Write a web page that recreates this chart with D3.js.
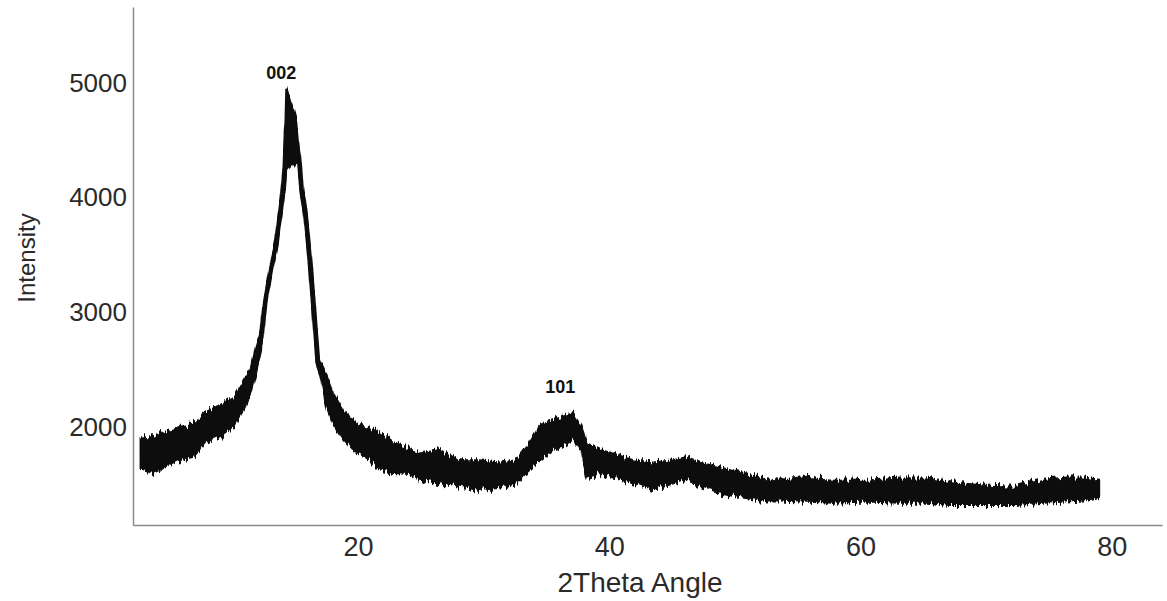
<!DOCTYPE html>
<html>
<head>
<meta charset="utf-8">
<script src="https://cdn.jsdelivr.net/npm/d3@7"></script>
<style>
  body { margin: 0; background: #fff; }
  svg { display: block; font-family: "Liberation Sans", Arial, sans-serif; }
</style>
</head>
<body>
<div id="chart-area"></div>
<script>
// 2theta angle (deg) with the lower and upper edge of the noisy trace
const angles = [2.7, 3.7, 4.7, 5.8, 6.9, 7.9, 9.0, 10.1, 10.9, 11.5, 11.9, 12.3, 12.5, 12.7, 13.1, 13.5, 13.8, 14.0,
  14.2, 14.3, 14.6, 14.9, 15.1, 15.3, 15.5, 15.8, 16.2, 16.6, 16.8, 17.0, 17.5, 18.0, 18.8, 19.6, 20.6, 21.8,
  22.8, 24.1, 24.9, 26.5, 28.1, 29.7, 31.3, 32.6, 33.4, 34.5, 35.5, 36.3, 37.1, 37.8, 38.2, 39.3, 40.3, 41.9,
  43.5, 45.1, 46.2, 47.2, 48.8, 50.4, 52.0, 53.6, 55.2, 57.9, 60.5, 63.1, 65.3, 67.1, 69.8, 72.4, 74.6, 76.4,
  77.8, 79.0];
const lower = [1630, 1600, 1650, 1710, 1740, 1860, 1910, 2000, 2150, 2300, 2470, 2670, 2950, 3130, 3370, 3570, 3830, 4010,
  4070, 4240, 4280, 4280, 4330, 4280, 4070, 3860, 3420, 2850, 2540, 2450, 2170, 2030, 1890, 1800, 1740, 1630,
  1600, 1590, 1540, 1510, 1480, 1450, 1470, 1510, 1600, 1710, 1800, 1830, 1890, 1800, 1560, 1600, 1560, 1510,
  1450, 1510, 1540, 1480, 1420, 1390, 1360, 1360, 1350, 1340, 1350, 1340, 1340, 1320, 1320, 1320, 1340, 1350,
  1360, 1390];
const upper = [1910, 1910, 1970, 2000, 2030, 2130, 2190, 2260, 2410, 2520, 2700, 2850, 3020, 3170, 3410, 3600, 3870, 4040,
  4500, 4960, 4850, 4760, 4680, 4420, 4110, 3890, 3460, 2890, 2630, 2560, 2440, 2300, 2150, 2060, 2000, 1950,
  1860, 1810, 1770, 1800, 1710, 1710, 1690, 1710, 1830, 2030, 2060, 2090, 2120, 2000, 1860, 1800, 1770, 1710,
  1690, 1710, 1740, 1690, 1650, 1600, 1560, 1540, 1560, 1540, 1540, 1560, 1560, 1520, 1490, 1480, 1540, 1560,
  1560, 1540];

const xTicks = [20, 40, 60, 80];
const yTicks = [2000, 3000, 4000, 5000];
const peakLabels = ["002", "101"];
const peakAngles = [13.9, 36.1];
const peakIntensities = [5030, 2300];

const margin = {left: 133, top: 7, right: 5, bottom: 76};
const canvasWidth = 1167;
const canvasHeight = 601;
const chartWidth = canvasWidth - margin.left - margin.right;
const chartHeight = canvasHeight - margin.top - margin.bottom;

const canvas = d3.select("#chart-area").append("svg").attr("width", canvasWidth).attr("height", canvasHeight);

// rough edge on the trace, like the scanned detector noise (vertical jitter only)
const filter = canvas.append("defs").append("filter").attr("id", "grain")
  .attr("x", "-2%").attr("y", "-10%").attr("width", "104%").attr("height", "120%");
filter.append("feTurbulence").attr("type", "fractalNoise").attr("baseFrequency", "0.45 0.02")
  .attr("numOctaves", 2).attr("seed", 3).attr("result", "noise");
filter.append("feColorMatrix").attr("in", "noise").attr("type", "matrix")
  .attr("values", "1 0 0 0 0  0 0 0 0 0.5  0 0 0 0 0  0 0 0 0 1").attr("result", "noiseY");
filter.append("feDisplacementMap").attr("in", "SourceGraphic").attr("in2", "noiseY")
  .attr("scale", 13).attr("xChannelSelector", "G").attr("yChannelSelector", "R");

const chartGroup = canvas.append("g").attr("transform", `translate(${margin.left}, ${margin.top})`);

const xScale = d3.scaleLinear().domain([2.1, 84]).range([0, chartWidth]);
const yScale = d3.scaleLinear().domain([1146, 5662]).range([chartHeight, 0]);

const data = angles.map((a, i) => ({angle: a, lo: lower[i], hi: upper[i]}));

// noise band plus a thick centre line so the steep flanks keep their width
const band = d3.area().x(d => xScale(d.angle)).y0(d => yScale(d.lo)).y1(d => yScale(d.hi));
const centre = d3.line().x(d => xScale(d.angle)).y(d => yScale((d.lo + d.hi) / 2));

const trace = chartGroup.append("g").attr("filter", "url(#grain)");
trace.append("path").datum(data)
  .attr("d", band).attr("fill", "#111").attr("stroke", "#111").attr("stroke-width", 2).attr("stroke-linejoin", "round");
trace.append("path").datum(data)
  .attr("d", centre).attr("fill", "none").attr("stroke", "#111").attr("stroke-width", 5).attr("stroke-linejoin", "round");

const xAxis = d3.axisBottom(xScale).tickValues(xTicks).tickSize(0).tickSizeOuter(0).tickPadding(12);
const xg = chartGroup.append("g").attr("transform", `translate(0, ${chartHeight})`).call(xAxis);
xg.select(".domain").attr("stroke", "#8a8a8a").attr("stroke-width", 1.5);
xg.selectAll("text").attr("font-size", "27px").attr("fill", "#2a2a2a").attr("font-family", "Liberation Sans, Arial, sans-serif");

const yAxis = d3.axisLeft(yScale).tickValues(yTicks).tickFormat(d3.format("d")).tickSize(0).tickSizeOuter(0).tickPadding(6);
const yg = chartGroup.append("g").call(yAxis);
yg.select(".domain").attr("stroke", "#8a8a8a").attr("stroke-width", 1.5);
yg.selectAll("text").attr("font-size", "26px").attr("fill", "#2a2a2a").attr("font-family", "Liberation Sans, Arial, sans-serif");

chartGroup.selectAll(".peak")
  .data(peakLabels)
  .enter()
  .append("text")
  .attr("class", "peak")
  .attr("x", (d, i) => xScale(peakAngles[i]))
  .attr("y", (d, i) => yScale(peakIntensities[i]))
  .attr("text-anchor", "middle")
  .attr("font-size", "18px")
  .attr("font-weight", "bold")
  .attr("fill", "#111")
  .text(d => d);

canvas.append("text")
  .attr("font-size", "28px")
  .attr("fill", "#2a2a2a")
  .attr("text-anchor", "middle")
  .attr("x", 640)
  .attr("y", 592)
  .text("2Theta Angle");

canvas.append("text")
  .attr("font-size", "24px")
  .attr("fill", "#2a2a2a")
  .attr("text-anchor", "middle")
  .attr("x", -258)
  .attr("y", 35)
  .attr("transform", "rotate(-90)")
  .text("Intensity");
</script>
</body>
</html>
